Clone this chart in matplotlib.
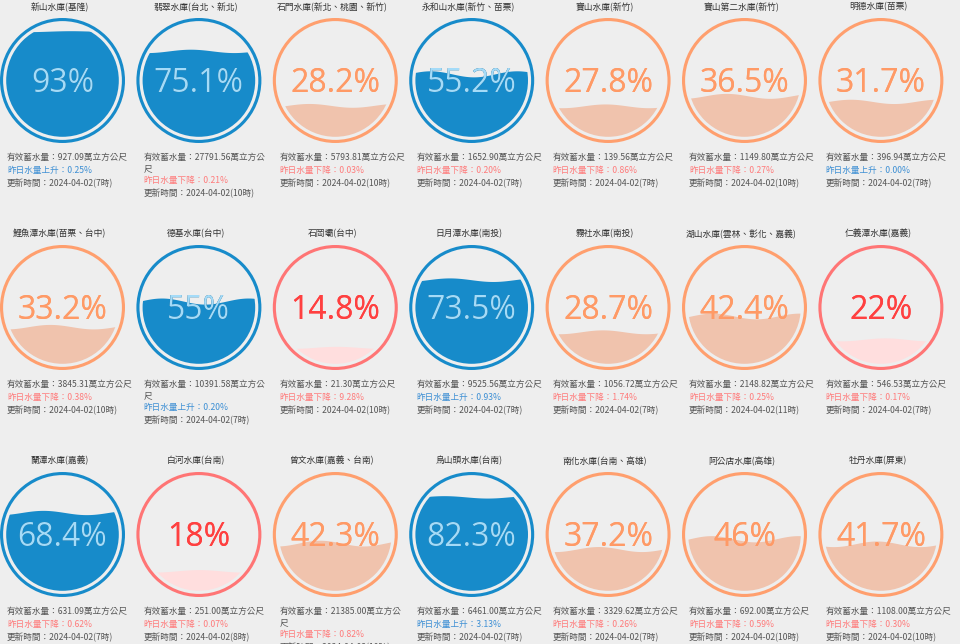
import numpy as np
import matplotlib
matplotlib.use('Agg')
import matplotlib.pyplot as plt
from matplotlib.patches import Circle, Polygon

plt.rcParams['font.family'] = ['Noto Sans CJK TC', 'DejaVu Sans']

names = ['新山水庫(基隆)', '翡翠水庫(台北、新北)', '石門水庫(新北、桃園、新竹)', '永和山水庫(新竹、苗栗)',
         '寶山水庫(新竹)', '寶山第二水庫(新竹)', '明德水庫(苗栗)',
         '鯉魚潭水庫(苗栗、台中)', '德基水庫(台中)', '石岡壩(台中)', '日月潭水庫(南投)',
         '霧社水庫(南投)', '湖山水庫(雲林、彰化、嘉義)', '仁義潭水庫(嘉義)',
         '蘭潭水庫(嘉義)', '白河水庫(台南)', '曾文水庫(嘉義、台南)', '烏山頭水庫(台南)',
         '南化水庫(台南、高雄)', '阿公店水庫(高雄)', '牡丹水庫(屏東)']
percent = [93, 75.1, 28.2, 55.2, 27.8, 36.5, 31.7,
           33.2, 55, 14.8, 73.5, 28.7, 42.4, 22,
           68.4, 18, 42.3, 82.3, 37.2, 46, 41.7]
storage = ['927.09', '27791.56', '5793.81', '1652.90', '139.56', '1149.80', '396.94',
           '3845.31', '10391.58', '21.30', '9525.56', '1056.72', '2148.82', '546.53',
           '631.09', '251.00', '21385.00', '6461.00', '3329.62', '692.00', '1108.00']
change_dir = ['上升', '下降', '下降', '下降', '下降', '下降', '上升',
              '下降', '上升', '下降', '上升', '下降', '下降', '下降',
              '下降', '下降', '下降', '上升', '下降', '下降', '下降']
change_val = ['0.25', '0.21', '0.03', '0.20', '0.86', '0.27', '0.00',
              '0.38', '0.20', '9.28', '0.93', '1.74', '0.25', '0.17',
              '0.62', '0.07', '0.82', '3.13', '0.26', '0.59', '0.30']
update_hour = [7, 10, 10, 7, 7, 10, 7,
               10, 7, 10, 7, 7, 11, 7,
               7, 8, 10, 7, 7, 10, 10]
update_date = '2024-04-02'
wave_phase = [0.0, 1.2, 2.5, 3.6, 0.8, 1.9, 2.8,
              1.5, 3.3, 0.5, 2.2, 1.0, 2.9, 0.3,
              2.0, 0.6, 1.7, 2.6, 1.3, 3.0, 0.9]

palettes = {
    'blue': dict(ring='#178BCA', wave='#178BCA', text='#045681', wtext='#A4DBF8'),
    'orange': dict(ring='#FF9F6E', wave='#F0C3AD', text='#FF9966', wtext='#FF9A66'),
    'red': dict(ring='#FF7575', wave='#FFDEDE', text='#FF4040', wtext='#FF4040'),
}
info_gray = '#555555'
rise_col = '#3D8FD4'
fall_col = '#FF7B7B'

BG = '#eeeeee'
fig = plt.figure(figsize=(9.6, 6.44), dpi=100)
fig.patch.set_facecolor(BG)
ax = fig.add_axes([0, 0, 1, 1])
ax.set_xlim(0, 960)
ax.set_ylim(644, 0)
ax.axis('off')
ax.set_facecolor(BG)

PT = 0.72
R = 62.5
thick = 3.1
fr = R - 2 * thick
wave_rel = 0.06
wave_count = 1.3

for i, name in enumerate(names):
    r, c = divmod(i, 7)
    cx = 62.5 + 136.4 * c
    cy = 80.5 + 227 * r
    p = percent[i]
    key = 'blue' if p >= 50 else ('orange' if p >= 25 else 'red')
    pal = palettes[key]

    # title
    ax.text(cx - 3, cy - 73.5, name, ha='center', va='center', fontsize=6.3, color='#333333')

    # ring
    ax.add_patch(Circle((cx, cy), R - thick / 2, fill=False, ec=pal['ring'], lw=thick * PT))

    # wave
    wh = fr * wave_rel * (1 - abs(p - 50) / 50)
    bottom = cy + fr
    level = bottom + wh - p / 100 * (2 * fr + 2 * wh)
    xs = np.linspace(cx - fr - 20, cx + fr + 20, 300)
    ys = level + wh * np.sin(2 * np.pi * wave_count * (xs - (cx - fr)) / (2 * fr) + wave_phase[i])
    below = np.vstack([np.column_stack([xs, ys]), [[xs[-1], bottom + 20], [xs[0], bottom + 20]]])
    above = np.vstack([np.column_stack([xs, ys]), [[xs[-1], cy - R - 20], [xs[0], cy - R - 20]]])
    clipc = Circle((cx, cy), fr, transform=ax.transData)
    wp = Polygon(below, closed=True, fc=pal['wave'], ec='none')
    ax.add_patch(wp)
    wp.set_clip_path(clipc)

    s = '{:g}%'.format(p)
    pa = Polygon(above, closed=True, transform=ax.transData)
    pb = Polygon(below, closed=True, transform=ax.transData)
    t1 = ax.text(cx, cy + 11.5, s, ha='center', va='baseline', fontsize=32 * PT,
                 color=pal['text'], family='Open Sans', clip_on=True)
    t1.set_clip_path(pa)
    t2 = ax.text(cx, cy + 11.5, s, ha='center', va='baseline', fontsize=32 * PT,
                 color=pal['wtext'], family='Open Sans', clip_on=True)
    t2.set_clip_path(pb)

    # info lines
    x0 = cx - 55.5
    y = cy + 77
    line1 = '有效蓄水量：' + storage[i] + '萬立方公尺'
    if len(storage[i]) >= 8:
        ax.text(x0, y, line1[:-1], ha='left', va='center', fontsize=6.2, color=info_gray)
        y += 11
        ax.text(x0, y, line1[-1], ha='left', va='center', fontsize=6.2, color=info_gray)
        y += 12
    else:
        ax.text(x0, y, line1, ha='left', va='center', fontsize=6.2, color=info_gray)
        y += 13
    col = rise_col if change_dir[i] == '上升' else fall_col
    ax.text(x0, y, '昨日水量' + change_dir[i] + '：' + change_val[i] + '%', ha='left', va='center',
            fontsize=6.2, color=col)
    y += 13
    ax.text(x0, y, '更新時間：' + update_date + '(' + str(update_hour[i]) + '時)', ha='left',
            va='center', fontsize=6.2, color=info_gray)

fig.savefig('out.png', dpi=100, facecolor=BG)
